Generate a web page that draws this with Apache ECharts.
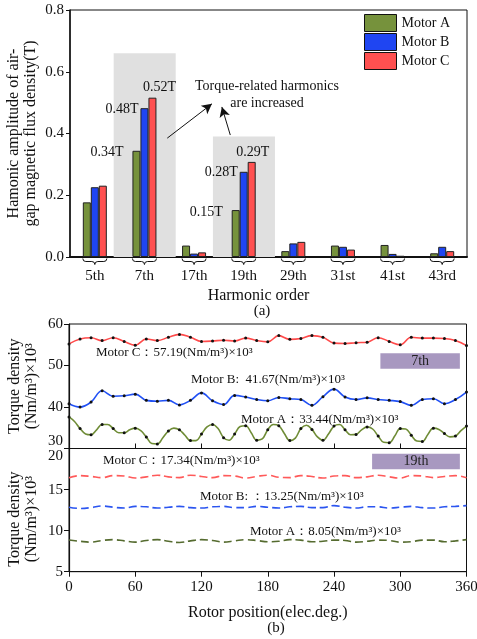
<!DOCTYPE html>
<html>
<head>
<meta charset="utf-8">
<script src="https://cdn.jsdelivr.net/npm/echarts@6/dist/echarts.min.js"></script>
<style>
  html, body { margin: 0; padding: 0; background: #fff; }
  #main { width: 477px; height: 639px; }
</style>
</head>
<body>
<div id="main"></div>
<script>
// (a) harmonic amplitudes
const categories = ['5th', '7th', '17th', '19th', '29th', '31st', '41st', '43rd'];
const motorA = [0.177, 0.344, 0.037, 0.152, 0.019, 0.037, 0.039, 0.012];
const motorB = [0.226, 0.482, 0.011, 0.276, 0.044, 0.033, 0.010, 0.033];
const motorC = [0.231, 0.516, 0.015, 0.308, 0.049, 0.024, 0.004, 0.019];
const labelsA = ['', '0.34T', '', '0.15T', '', '', '', ''];
const labelsB = ['', '0.48T', '', '0.28T', '', '', '', ''];
const labelsC = ['', '0.52T', '', '0.29T', '', '', '', ''];

// (b) torque density, 7th harmonic
const angles10 = [0, 10, 20, 30, 40, 50, 60, 70, 80, 90, 100, 110, 120, 130, 140, 150, 160, 170, 180,
  190, 200, 210, 220, 230, 240, 250, 260, 270, 280, 290, 300, 310, 320, 330, 340, 350, 360];
const angles5 = [];
for (let a = 0; a <= 360; a += 5) angles5.push(a);

const torqueC7 = [55.2, 56.4, 56.7, 56.0, 56.7, 55.8, 54.9, 56.4, 56.0, 56.8, 57.5, 56.8, 55.8,
  55.9, 56.1, 55.9, 56.6, 56.0, 55.7, 57.2, 56.3, 56.5, 57.2, 56.8, 55.4,
  55.3, 55.5, 55.6, 56.7, 55.8, 55.0, 56.8, 56.6, 56.6, 56.5, 56.0, 54.8];
const torqueB7 = [40.8, 40.0, 41.2, 43.9, 42.6, 42.7, 43.1, 41.6, 41.4, 41.6, 40.5, 41.6, 43.4,
  41.5, 40.6, 42.8, 42.4, 41.8, 41.5, 42.3, 42.0, 41.8, 40.4, 42.5, 44.3,
  42.4, 41.8, 42.2, 41.8, 41.6, 41.3, 40.4, 41.8, 42.0, 40.8, 41.8, 43.6];
const torqueA7 = [37.6, 36.5, 34.8, 33.5, 33.3, 34.5, 35.8, 35.8, 34.8, 33.8, 33.8, 34.5, 34.9,
  34.3, 32.8, 31.2, 31.1, 32.6, 34.2, 34.9, 34.5, 33.2, 31.9, 31.9, 33.5,
  35.2, 35.8, 34.8, 32.6, 32.0, 33.5, 35.3, 35.5, 33.8, 32.0, 32.3, 34.5,
  35.8, 35.5, 33.6, 31.9, 32.5, 34.8, 35.6, 34.6, 32.8, 32.0, 33.5, 35.4,
  35.8, 34.5, 33.3, 33.4, 34.5, 35.2, 34.7, 33.0, 31.5, 31.4, 33.0, 34.8,
  34.7, 33.2, 31.8, 31.7, 33.4, 34.9, 34.6, 33.6, 32.8, 33.0, 34.3, 35.4];

// (b) torque density, 19th harmonic
const torqueC19 = [16.45, 16.7, 16.6, 16.45, 16.7, 16.65, 16.4, 16.55, 16.75, 16.55, 16.45, 16.75, 16.6,
  16.45, 16.7, 16.65, 16.4, 16.6, 16.75, 16.5, 16.45, 16.7, 16.6, 16.4, 16.65,
  16.7, 16.45, 16.55, 16.75, 16.55, 16.4, 16.7, 16.65, 16.45, 16.6, 16.7, 16.45];
const torqueB19 = [12.85, 12.7, 12.8, 13.0, 12.85, 12.75, 12.95, 12.9, 12.75, 12.85, 12.95, 12.8, 12.75,
  12.9, 12.95, 12.8, 12.8, 12.95, 12.85, 12.75, 12.9, 12.95, 12.8, 12.8, 13.05,
  12.85, 12.75, 12.9, 12.9, 12.75, 12.85, 12.95, 12.8, 12.75, 12.9, 12.95, 13.05];
const torqueA19 = [8.85, 8.7, 8.6, 8.8, 8.9, 8.75, 8.6, 8.8, 8.9, 8.7, 8.55, 8.75, 8.9,
  8.8, 8.6, 8.75, 8.9, 8.8, 8.65, 8.7, 8.9, 8.85, 8.65, 8.7, 8.85,
  8.8, 8.6, 8.7, 8.85, 8.8, 8.6, 8.65, 8.85, 8.85, 8.65, 8.75, 8.9];

const FONT = "'Liberation Serif', 'Times New Roman', serif";
const chart = echarts.init(document.getElementById('main'), null, { renderer: 'canvas' });

function barData(values, labels, opt) {
  return values.map(function (v, i) {
    if (!labels[i]) return v;
    return { value: v, label: Object.assign({ show: true, formatter: labels[i] }, opt[i] || opt.all) };
  });
}

function pairs(xs, ys) {
  return ys.map(function (v, i) { return [xs[i], v]; });
}

function dottedEvery10(xs, ys) {
  return ys.map(function (v, i) {
    return xs[i] % 10 === 0 ? [xs[i], v] : { value: [xs[i], v], symbol: 'none' };
  });
}

const barLabelBase = { fontFamily: FONT, fontSize: 14, color: '#111' };

function torqueLine(name, data, color, dashed, xi) {
  return {
    name: name,
    type: 'line',
    xAxisIndex: xi,
    yAxisIndex: xi,
    smooth: 0.4,
    data: data,
    symbol: dashed ? 'none' : 'circle',
    symbolSize: 3,
    showAllSymbol: true,
    itemStyle: { color: '#111', borderWidth: 0 },
    lineStyle: { color: color, width: 1.6, type: dashed ? [8, 4] : 'solid' },
    z: 3
  };
}

function braces(params, api) {
  const p = api.coord([api.value(0), 0]);
  const w = 12;
  const xl = p[0] - w, xr = p[0] + w, xc = p[0];
  const y0 = p[1] + 1.5;
  const d = 'M' + xl + ' ' + y0 + ' Q' + xl + ' ' + (y0 + 3) + ' ' + (xl + 3) + ' ' + (y0 + 3) +
    ' L' + (xc - 3) + ' ' + (y0 + 3) + ' Q' + xc + ' ' + (y0 + 3) + ' ' + xc + ' ' + (y0 + 6) +
    ' Q' + xc + ' ' + (y0 + 3) + ' ' + (xc + 3) + ' ' + (y0 + 3) +
    ' L' + (xr - 3) + ' ' + (y0 + 3) + ' Q' + xr + ' ' + (y0 + 3) + ' ' + xr + ' ' + y0;
  return { type: 'path', shape: { pathData: d }, style: { stroke: '#111', fill: null, lineWidth: 1 } };
}

const axisText = { fontFamily: FONT, fontSize: 15, color: '#111' };
const nameText = { fontFamily: FONT, fontSize: 16, color: '#111', lineHeight: 17 };
const gridBase = { show: true, borderColor: '#111', borderWidth: 1, outerBoundsMode: 'none', containLabel: false };

const option = {
  animation: false,
  backgroundColor: '#fff',
  textStyle: { fontFamily: FONT },
  legend: {
    data: ['Motor A', 'Motor B', 'Motor C'],
    orient: 'vertical',
    left: 364,
    top: 14,
    padding: 0,
    itemWidth: 32,
    itemHeight: 17,
    itemGap: 1,
    icon: 'rect',
    itemStyle: { borderColor: '#111', borderWidth: 1 },
    textStyle: { fontFamily: FONT, fontSize: 14, color: '#111' }
  },
  grid: [
    Object.assign({ left: 70, top: 10, width: 397, height: 247 }, gridBase),
    Object.assign({ left: 69, top: 324, width: 397.5, height: 124.5 }, gridBase),
    Object.assign({ left: 69, top: 448.5, width: 397.5, height: 123.2 }, gridBase)
  ],
  xAxis: [
    {
      type: 'category', gridIndex: 0, data: categories,
      axisLine: { lineStyle: { color: '#111', width: 2 } },
      axisTick: { show: false },
      axisLabel: Object.assign({ margin: 12 }, axisText),
      name: 'Harmonic order', nameLocation: 'middle', nameGap: 30,
      nameTextStyle: Object.assign({ padding: [0, 20, 0, 0] }, nameText)
    },
    {
      type: 'value', gridIndex: 1, min: 0, max: 360, interval: 60,
      axisLine: { lineStyle: { color: '#111', width: 1.2 } },
      axisTick: { inside: true, length: 5, lineStyle: { color: '#111' } },
      axisLabel: { show: false },
      splitLine: { show: false }
    },
    {
      type: 'value', gridIndex: 2, min: 0, max: 360, interval: 60,
      axisLine: { lineStyle: { color: '#111', width: 1.2 } },
      axisTick: { length: 5, lineStyle: { color: '#111' } },
      axisLabel: Object.assign({ margin: 8 }, axisText),
      splitLine: { show: false },
      name: 'Rotor position(elec.deg.)', nameLocation: 'middle', nameGap: 33,
      nameTextStyle: nameText
    },
    { type: 'value', gridIndex: 0, min: 0, max: 8, show: false }
  ],
  yAxis: [
    {
      type: 'value', gridIndex: 0, min: 0, max: 0.8, interval: 0.2,
      axisLine: { show: true, lineStyle: { color: '#111', width: 1.5 } },
      axisTick: { show: true, length: 4, lineStyle: { color: '#111' } },
      axisLabel: Object.assign({ margin: 6, formatter: function (v) { return v.toFixed(1); } }, axisText),
      splitLine: { show: false },
      name: 'Hamonic amplitude of air-\ngap magnetic flux density(T)',
      nameLocation: 'middle', nameGap: 31, nameMoveOverlap: false, nameTextStyle: nameText
    },
    {
      type: 'value', gridIndex: 1, min: 30, max: 60, interval: 10,
      axisLine: { show: true, lineStyle: { color: '#111', width: 1.2 } },
      axisTick: { show: true, length: 5, lineStyle: { color: '#111' } },
      axisLabel: Object.assign({ margin: 6, verticalAlignMinLabel: 'bottom' }, axisText),
      splitLine: { show: false },
      name: 'Torque density\n(Nm/m³)×10³', nameLocation: 'middle', nameGap: 29, nameMoveOverlap: false,
      nameTextStyle: nameText
    },
    {
      type: 'value', gridIndex: 2, min: 5, max: 20, interval: 5,
      axisLine: { show: true, lineStyle: { color: '#111', width: 1.2 } },
      axisTick: { show: true, length: 5, lineStyle: { color: '#111' } },
      axisLabel: Object.assign({ margin: 6, verticalAlignMaxLabel: 'top' }, axisText),
      splitLine: { show: false },
      name: 'Torque density\n(Nm/m³)×10³', nameLocation: 'middle', nameGap: 29, nameMoveOverlap: false,
      nameTextStyle: Object.assign({ padding: [0, 0, 0, -18] }, nameText)
    }
  ],
  series: [
    {
      name: 'shade', type: 'scatter', xAxisIndex: 3, yAxisIndex: 0,
      data: [[0, 0]], symbolSize: 0, silent: true, z: 0,
      markArea: {
        silent: true,
        itemStyle: { color: '#e0e0e0' },
        data: [
          [{ coord: [0.88, 0.66] }, { coord: [2.13, 0] }],
          [{ coord: [2.88, 0.39] }, { coord: [4.13, 0] }]
        ]
      },
      markLine: {
        silent: true,
        symbol: ['none', 'arrow'],
        symbolSize: [8, 10],
        label: { show: false },
        lineStyle: { color: '#111', width: 1, type: 'solid' },
        data: [
          [{ coord: [1.96, 0.385] }, { coord: [2.86, 0.496] }],
          [{ coord: [3.23, 0.395] }, { coord: [3.06, 0.486] }]
        ]
      }
    },
    {
      name: 'Motor A', type: 'bar', xAxisIndex: 0, yAxisIndex: 0, barWidth: 8, barGap: '0%', z: 2,
      itemStyle: { color: '#76923c', borderColor: '#222', borderWidth: 1 },
      data: barData(motorA, labelsA, {
        all: Object.assign({ position: [-9, 2], align: 'right', verticalAlign: 'middle' }, barLabelBase)
      })
    },
    {
      name: 'Motor B', type: 'bar', xAxisIndex: 0, yAxisIndex: 0, barWidth: 8, barGap: '0%', z: 2,
      itemStyle: { color: '#1f45f2', borderColor: '#222', borderWidth: 1 },
      data: barData(motorB, labelsB, {
        all: Object.assign({ position: [-2, 1], align: 'right', verticalAlign: 'middle' }, barLabelBase)
      })
    },
    {
      name: 'Motor C', type: 'bar', xAxisIndex: 0, yAxisIndex: 0, barWidth: 8, barGap: '0%', z: 2,
      itemStyle: { color: '#ff5050', borderColor: '#222', borderWidth: 1 },
      data: barData(motorC, labelsC, {
        1: Object.assign({ position: 'top', distance: 3, offset: [7, 0] }, barLabelBase),
        3: Object.assign({ position: 'top', distance: 3, offset: [1, 0] }, barLabelBase)
      })
    },
    {
      name: 'braces', type: 'custom', xAxisIndex: 0, yAxisIndex: 0, clip: false, silent: true,
      renderItem: braces,
      data: categories.map(function (c, i) { return [i, 0]; })
    },
    Object.assign(torqueLine('Motor C 7th', pairs(angles10, torqueC7), '#ff4a4a', false, 1), {
      markArea: {
        silent: true,
        itemStyle: { color: '#a898c0' },
        label: { show: true, position: 'inside', color: '#222', fontFamily: FONT, fontSize: 14 },
        data: [[{ name: '7th', coord: [282, 52.98] }, { coord: [354, 49.2] }]]
      }
    }),
    torqueLine('Motor B 7th', pairs(angles10, torqueB7), '#2050f5', false, 1),
    torqueLine('Motor A 7th', dottedEvery10(angles5, torqueA7), '#6f8c36', false, 1),
    Object.assign(torqueLine('Motor C 19th', pairs(angles10, torqueC19), '#ff5a5a', true, 2), {
      markArea: {
        silent: true,
        itemStyle: { color: '#a898c0' },
        label: { show: true, position: 'inside', color: '#222', fontFamily: FONT, fontSize: 14 },
        data: [[{ name: '19th', coord: [274.5, 19.36] }, { coord: [354, 17.46] }]]
      }
    }),
    torqueLine('Motor B 19th', pairs(angles10, torqueB19), '#2b55f0', true, 2),
    torqueLine('Motor A 19th', pairs(angles10, torqueA19), '#556b2f', true, 2)
  ],
  graphic: [
    { type: 'text', x: 267, y: 78, style: { text: 'Torque-related harmonics\nare increased', font: '14px ' + FONT, fill: '#111', lineHeight: 17, align: 'center' } },
    { type: 'text', x: 262, y: 304, style: { text: '(a)', font: '15px ' + FONT, fill: '#111', align: 'center' } },
    { type: 'text', x: 276, y: 621, style: { text: '(b)', font: '15px ' + FONT, fill: '#111', align: 'center' } },
    { type: 'text', x: 96, y: 346, style: { text: 'Motor C：57.19(Nm/m³)×10³', font: '13px ' + FONT, fill: '#111' } },
    { type: 'text', x: 191, y: 373, style: { text: 'Motor B:  41.67(Nm/m³)×10³', font: '13px ' + FONT, fill: '#111' } },
    { type: 'text', x: 241, y: 413, style: { text: 'Motor A：33.44(Nm/m³)×10³', font: '13px ' + FONT, fill: '#111' } },
    { type: 'text', x: 103, y: 454, style: { text: 'Motor C：17.34(Nm/m³)×10³', font: '13px ' + FONT, fill: '#111' } },
    { type: 'text', x: 200, y: 490, style: { text: 'Motor B: ：13.25(Nm/m³)×10³', font: '13px ' + FONT, fill: '#111' } },
    { type: 'text', x: 250, y: 525, style: { text: 'Motor A：8.05(Nm/m³)×10³', font: '13px ' + FONT, fill: '#111' } }
  ]
};

chart.setOption(option);
</script>
</body>
</html>
